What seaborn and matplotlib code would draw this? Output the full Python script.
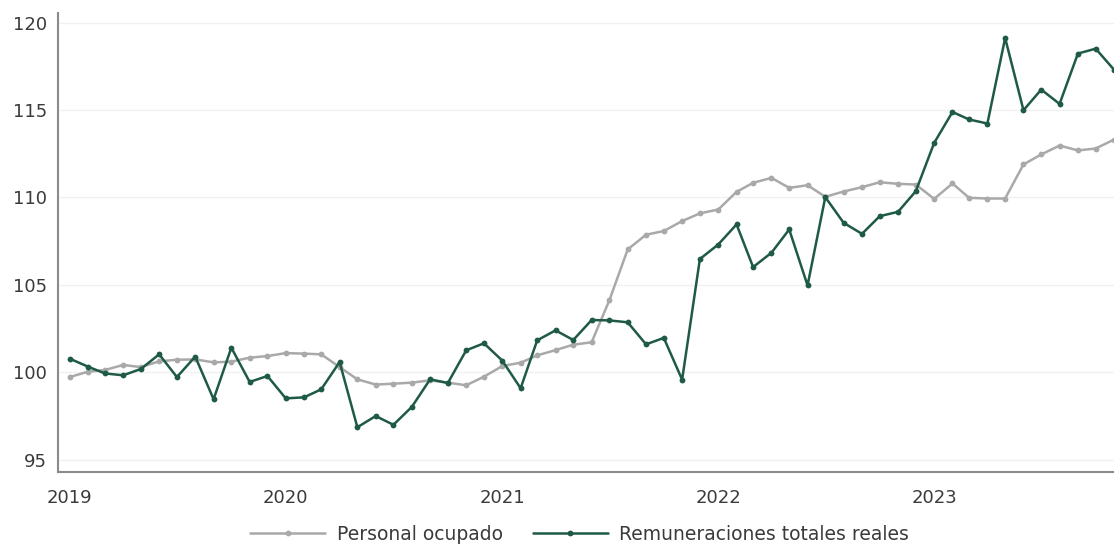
import numpy as np
import pandas as pd
import matplotlib
matplotlib.use("Agg")
import matplotlib.pyplot as plt
import matplotlib.dates as mdates
import seaborn as sns

dates = pd.date_range("2019-01-01", "2023-11-01", freq="MS")

personal_ocupado = [
    99.73, 100.04, 100.13, 100.42, 100.30, 100.63, 100.72, 100.74, 100.57, 100.61,
    100.84, 100.93, 101.10, 101.07, 101.03, 100.30, 99.60, 99.30, 99.35, 99.41,
    99.54, 99.41, 99.26, 99.75, 100.36, 100.55, 100.97, 101.27, 101.58, 101.72,
    104.12, 107.03, 107.87, 108.08, 108.65, 109.09, 109.31, 110.32, 110.84, 111.12,
    110.55, 110.70, 110.04, 110.34, 110.59, 110.87, 110.78, 110.74, 109.92, 110.80,
    109.98, 109.94, 109.94, 111.89, 112.46, 112.97, 112.69, 112.80, 113.31,
]
remuneraciones = [
    100.78, 100.32, 99.94, 99.83, 100.19, 101.03, 99.73, 100.90, 98.46, 101.41,
    99.45, 99.79, 98.51, 98.57, 99.03, 100.59, 96.86, 97.50, 97.00, 98.02,
    99.60, 99.39, 101.26, 101.66, 100.67, 99.09, 101.83, 102.40, 101.85, 102.99,
    102.97, 102.86, 101.60, 101.97, 99.58, 106.48, 107.31, 108.46, 106.02, 106.84,
    108.17, 104.97, 110.02, 108.55, 107.92, 108.93, 109.18, 110.36, 113.12, 114.89,
    114.46, 114.23, 119.12, 114.99, 116.17, 115.35, 118.23, 118.51, 117.31,
]
series_names = ["Personal ocupado", "Remuneraciones totales reales"]
year_ticks = ["2019", "2020", "2021", "2022", "2023"]
y_ticks = [95, 100, 105, 110, 115, 120]

df = pd.DataFrame({
    "fecha": list(dates) * 2,
    "valor": personal_ocupado + remuneraciones,
    "serie": [series_names[0]] * len(dates) + [series_names[1]] * len(dates),
})

sns.set_theme(style="white")
plt.rcParams["font.family"] = ["DejaVu Sans"]

fig = plt.figure(figsize=(11.14, 5.47), dpi=100)
ax = fig.add_axes([58 / 1114, 1 - 472 / 547, 1 - 58 / 1114, (472 - 13) / 547])

palette = {series_names[0]: "#a9a9a9", series_names[1]: "#1f5a47"}
sns.lineplot(
    data=df, x="fecha", y="valor", hue="serie", palette=palette,
    marker="o", markersize=4.2, markeredgewidth=0, linewidth=1.8, ax=ax,
    legend=True,
)

for y in y_ticks:
    ax.axhline(y, color="#f0f0f0", linewidth=1.0, zorder=0)

ax.set_ylim(94.3, 120.55)
ax.set_xlim(pd.Timestamp("2019-01-01") - pd.Timedelta(days=20), pd.Timestamp("2023-11-01"))
ax.set_yticks(y_ticks)
ax.set_yticklabels([str(v) for v in y_ticks])
ax.set_xticks([pd.Timestamp(f"{y}-01-01") for y in year_ticks])
ax.set_xticklabels(year_ticks)
ax.set_xlabel("")
ax.set_ylabel("")

for s in ["top", "right"]:
    ax.spines[s].set_visible(False)
for s in ["left", "bottom"]:
    ax.spines[s].set_color("#8a8a8a")
    ax.spines[s].set_linewidth(1.5)
ax.tick_params(axis="both", which="both", direction="out", length=5, width=1.2,
               color="#8a8a8a", labelsize=13, labelcolor="#3a3a3a", pad=3)
ax.tick_params(axis="x", length=5, pad=7)

handles, labels = ax.get_legend_handles_labels()
leg = ax.legend(handles, labels, loc="upper center", bbox_to_anchor=(0.494, -0.078),
                ncol=2, frameon=False, fontsize=13.5, handlelength=4.0, columnspacing=1.6,
                handletextpad=0.6)
for t in leg.get_texts():
    t.set_color("#3a3a3a")

fig.savefig("out.png", dpi=100)
